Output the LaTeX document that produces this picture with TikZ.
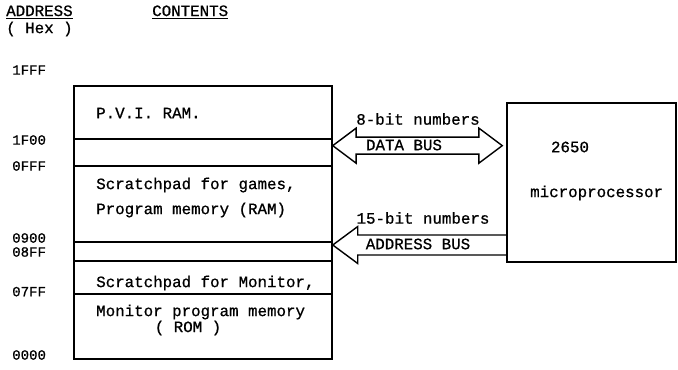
\documentclass[tikz,border=0pt]{standalone}
\usepackage{fontspec}
\setmainfont{Liberation Mono}[FakeBold=0.8]
\usetikzlibrary{calc, positioning}
\tikzset{
  memtxt/.style={% Style for the typed texts
      anchor=west,
      inner sep=0pt,
      font=\fontsize{13.5}{15}\selectfont,
  },
  addr/.style={% Style for the hex addresses
      anchor=west,
      inner sep=0pt,
      font=\fontsize{12}{14}\selectfont,
  },
  box/.style={% Style for memory and cpu boxes
      rectangle,
      draw=black,
      line width=1.3pt,
      inner sep=0pt,
  },
  bus/.style={% Style for the hollow bus arrows
      draw=black,
      line width=1.2pt,
      line join=miter,
  },
  divider/.style={line width=1.2pt},
}

\begin{document}
\begin{tikzpicture}
  \useasboundingbox (0,0) rectangle (20.34,-11.07);
  % header
  \node[memtxt] (addrhead) at (0.18,-0.36) {\underline{ADDRESS}};
  \node[memtxt] (hex) at (0.18,-0.87) {( Hex )};
  \node[memtxt] (conthead) at (4.56,-0.36) {\underline{CONTENTS}};
  % memory map
  \node[box, minimum width=7.74cm, minimum height=8.19cm] (mem) at (6.09,-6.675) {};
  \foreach \y/\n in {-4.17/a, -4.98/b, -7.26/c, -7.83/d, -8.82/e}
    \draw[divider] (mem.west |- 0,\y) coordinate (l\n) -- (mem.east |- 0,\y);
  \foreach \lab/\y in {1FFF/-2.1, 1F00/-4.2, 0FFF/-4.98, 0900/-7.14, 08FF/-7.56, 07FF/-8.75, 0000/-10.65}
    \node[addr] (a\lab) at (0.36,\y) {\lab};
  \node[memtxt] (pvi) at (2.88,-3.39) {P.V.I. RAM.};
  \node[memtxt] (games) at (2.88,-5.55) {Scratchpad for games,};
  \node[memtxt] (prog) at (2.88,-6.3) {Program memory (RAM)};
  \node[memtxt] (monscr) at (2.88,-8.49) {Scratchpad for Monitor,};
  \node[memtxt] (monprog) at (2.88,-9.36) {Monitor program memory};
  \node[memtxt, anchor=center] (rom) at (5.64,-9.84) {( ROM )};
  % processor
  \node[box, minimum width=5.07cm, minimum height=4.77cm] (cpu) at (17.745,-5.475) {};
  \node[memtxt, anchor=center] (num) at (17.1,-4.41) {2650};
  \node[memtxt, anchor=center] (micro) at (17.9,-5.79) {microprocessor};
  % data bus, both ways
  \coordinate (dbL) at (mem.east |- 0,-4.37);
  \coordinate (dbR) at ($(cpu.west |- 0,-4.37)+(-0.12,0)$);
  \draw[bus] (dbL) -- ++(0.7,0.525) -- ++(0,-0.27) -- ($(dbR)+(-0.7,0.255)$)
    -- ++(0,0.27) -- (dbR) -- ++(-0.7,-0.525) -- ++(0,0.27)
    -- ($(dbL)+(0.7,-0.255)$) -- ++(0,-0.27) -- cycle;
  \node[memtxt, anchor=center] (dbits) at (12.54,-3.57) {8-bit numbers};
  \node[memtxt, anchor=center] (dbus) at (12.12,-4.35) {DATA BUS};
  % address bus, cpu to memory
  \coordinate (abL) at (mem.east |- 0,-7.35);
  \draw[bus] (cpu.west |- 0,-7.05) -- ($(abL)+(0.75,0.3)$) -- ++(0,0.255) -- (abL)
    -- ++(0.75,-0.555) -- ++(0,0.255) -- (cpu.west |- 0,-7.65);
  \node[memtxt, anchor=center] (abits) at (12.69,-6.54) {15-bit numbers};
  \node[memtxt, anchor=center] (abus) at (12.54,-7.32) {ADDRESS BUS};
\end{tikzpicture}
\end{document}
